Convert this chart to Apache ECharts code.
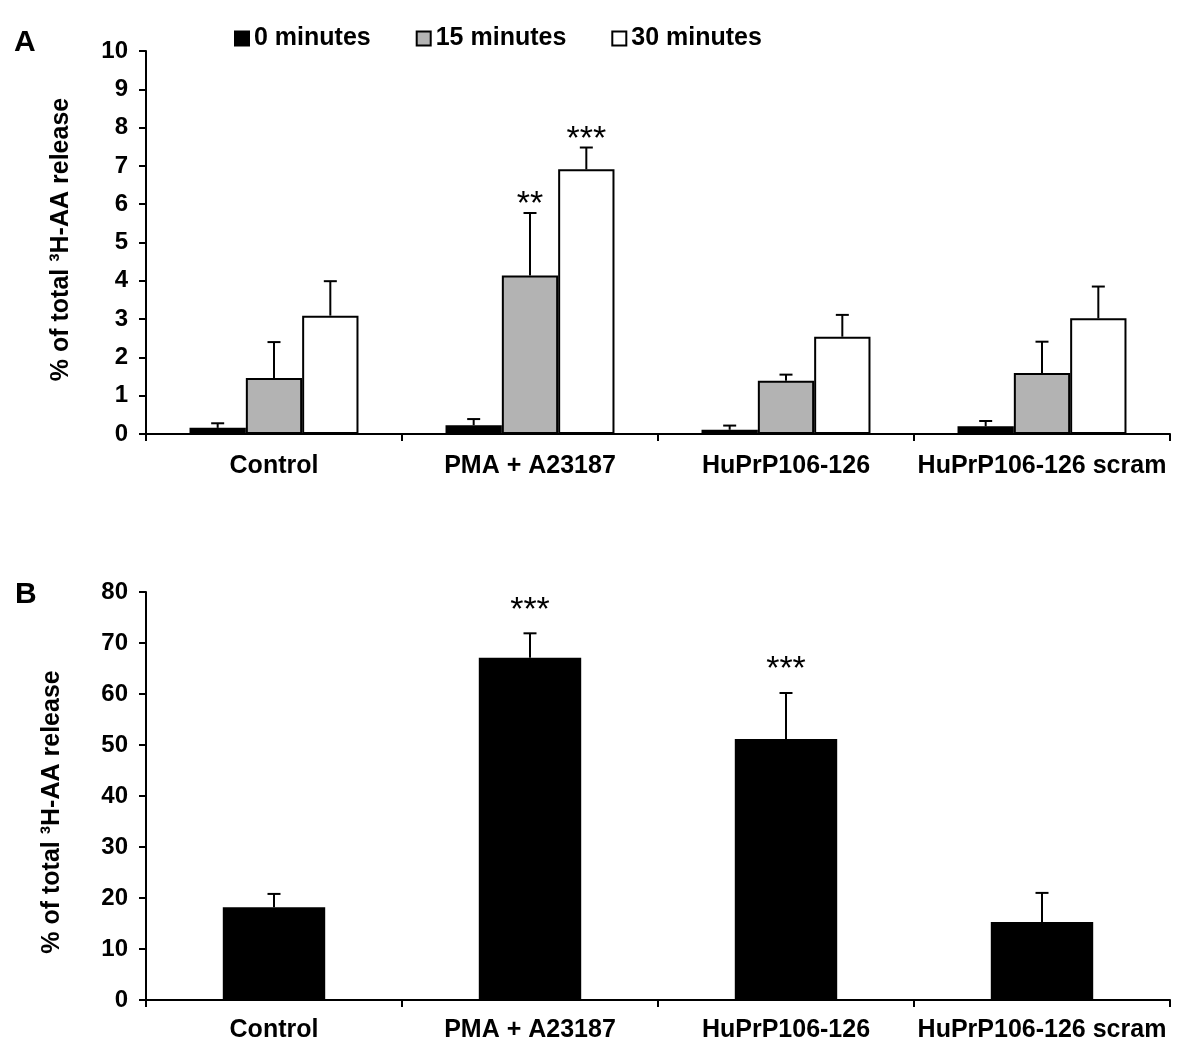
<!DOCTYPE html>
<html><head><meta charset="utf-8">
<script src="https://cdn.jsdelivr.net/npm/echarts@6/dist/echarts.min.js"></script>
<style>html,body{margin:0;padding:0;background:#fff}#c{width:1200px;height:1059px}</style>
</head><body><div id="c"></div>
<script>
// ---- data ----
const categories = ['Control', 'PMA + A23187', 'HuPrP106-126', 'HuPrP106-126 scram'];
const seriesNamesA = ['0 minutes', '15 minutes', '30 minutes'];
const meansA0  = [0.16, 0.23, 0.11, 0.20];
const errTopA0 = [0.28, 0.39, 0.22, 0.34];
const meansA15  = [1.46, 4.14, 1.39, 1.59];
const errTopA15 = [2.40, 5.77, 1.55, 2.41];
const meansA30  = [3.09, 6.91, 2.54, 3.02];
const errTopA30 = [3.99, 7.48, 3.11, 3.85];
const sigA0  = ['', '', '', ''];
const sigA15 = ['', '**', '', ''];
const sigA30 = ['', '***', '', ''];
const meansB  = [18.2, 67.1, 51.2, 15.3];
const errTopB = [20.8, 71.9, 60.2, 21.0];
const sigB = ['', '***', '***', ''];
const yAxisA = {min: 0, max: 10, interval: 1};
const yAxisB = {min: 0, max: 80, interval: 10};
const yTitle = '% of total \u00B3H-AA release';
const panelLabels = ['A', 'B'];

// ---- styles ----
const FONT = '"Liberation Sans", Arial, sans-serif';
const fillsA = ['#000000', '#b3b3b3', '#ffffff'];

function errorSeries(means, tops, sigs, k, n, frac, gap, gi) {
  return {
    type: 'custom', xAxisIndex: gi, yAxisIndex: gi, z: 3, silent: true,
    data: means.map((m, i) => [i, m, tops[i]]),
    encode: {x: 0, y: [1, 2]},
    renderItem(params, api) {
      const i = api.value(0);
      const catW = api.size([1, 0])[0];
      const off = (k - (n - 1) / 2) * frac * catW;
      const pb = api.coord([i, api.value(1)]);
      const pt = api.coord([i, api.value(2)]);
      const x = pb[0] + off;
      const children = [
        {type: 'line', shape: {x1: x, y1: pb[1], x2: x, y2: pt[1]}, style: {stroke: '#000', lineWidth: 2}},
        {type: 'line', shape: {x1: x - 6.5, y1: pt[1], x2: x + 6.5, y2: pt[1]}, style: {stroke: '#000', lineWidth: 2}}
      ];
      const s = sigs[params.dataIndex];
      if (s) children.push({type: 'text', x: x, y: pt[1] - gap,
        style: {text: s, fill: '#000', font: 'normal 34px ' + FONT, align: 'center', verticalAlign: 'middle'}});
      return {type: 'group', children};
    }
  };
}

function xAxisCfg(gi, margin) {
  return {
    type: 'category', gridIndex: gi, data: categories,
    axisLine: {show: true, lineStyle: {color: '#000', width: 2}},
    axisTick: {show: true, length: 7, lineStyle: {color: '#000', width: 2}},
    axisLabel: {color: '#000', fontWeight: 'bold', fontSize: 25, fontFamily: FONT, margin: margin, interval: 0},
    splitLine: {show: false}
  };
}
function yAxisCfg(gi, rng, gap, shift) {
  return {
    type: 'value', gridIndex: gi, min: rng.min, max: rng.max, interval: rng.interval,
    name: yTitle, nameLocation: 'middle', nameGap: gap,
    nameTextStyle: {color: '#000', fontWeight: 'bold', fontSize: 25, fontFamily: FONT,
      padding: shift > 0 ? [0, shift, 0, 0] : [0, 0, 0, -shift]},
    axisLine: {show: true, lineStyle: {color: '#000', width: 2}},
    axisTick: {show: true, length: 7, lineStyle: {color: '#000', width: 2}},
    axisLabel: {color: '#000', fontWeight: 'bold', fontSize: 24, fontFamily: FONT, margin: 18},
    splitLine: {show: false}
  };
}

const meansA = [meansA0, meansA15, meansA30];
const topsA = [errTopA0, errTopA15, errTopA30];
const sigsA = [sigA0, sigA15, sigA30];
const fracA = 0.22;

const series = [];
seriesNamesA.forEach((nm, k) => {
  series.push({
    name: nm, type: 'bar', xAxisIndex: 0, yAxisIndex: 0,
    data: meansA[k], barWidth: (fracA * 100) + '%', barGap: '0%',
    itemStyle: {color: fillsA[k], borderColor: '#000', borderWidth: 2},
    emphasis: {disabled: true}
  });
});
seriesNamesA.forEach((nm, k) => series.push(errorSeries(meansA[k], topsA[k], sigsA[k], k, 3, fracA, 8, 0)));
series.push({
  name: 'B', type: 'bar', xAxisIndex: 1, yAxisIndex: 1, data: meansB, barWidth: '40%',
  itemStyle: {color: '#000'}, emphasis: {disabled: true}
});
series.push(errorSeries(meansB, errTopB, sigB, 0, 1, 0.4, 23, 1));

const chart = echarts.init(document.getElementById('c'), null, {renderer: 'canvas'});
chart.setOption({
  animation: false,
  backgroundColor: '#fff',
  grid: [
    {left: 146, right: 30, top: 51, height: 383},
    {left: 146, right: 30, top: 592, height: 408}
  ],
  legend: {
    data: seriesNamesA, left: 229, top: 21, itemGap: 45, itemWidth: 14, itemHeight: 14,
    icon: 'rect', selectedMode: false,
    textStyle: {color: '#000', fontWeight: 'bold', fontSize: 25, fontFamily: FONT}
  },
  xAxis: [xAxisCfg(0, 20), xAxisCfg(1, 18)],
  yAxis: [yAxisCfg(0, yAxisA, 72, -6), yAxisCfg(1, yAxisB, 81, 32)],
  series: series,
  graphic: [
    {type: 'text', left: 14, top: 28, style: {text: panelLabels[0], fill: '#000', font: 'bold 30px ' + FONT}},
    {type: 'text', left: 15, top: 580, style: {text: panelLabels[1], fill: '#000', font: 'bold 30px ' + FONT}}
  ]
});
</script></body></html>
